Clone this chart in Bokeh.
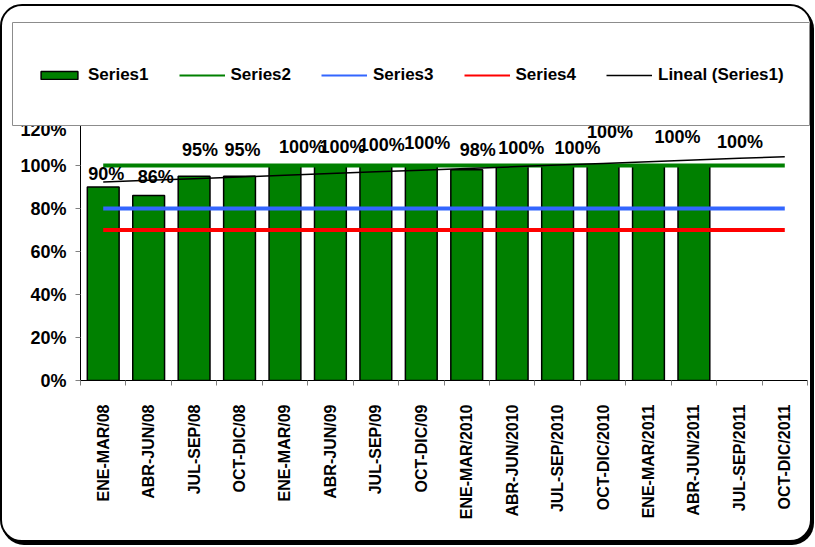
import numpy as np
from bokeh.plotting import figure
from bokeh.models import Range1d, FixedTicker, PrintfTickFormatter, Legend, LegendItem, ColumnDataSource
from bokeh.layouts import column
from bokeh.embed import file_html
from bokeh.resources import INLINE
from bokeh.core.properties import value

# ---------------- data ----------------
categories = ["ENE-MAR/08", "ABR-JUN/08", "JUL-SEP/08", "OCT-DIC/08",
              "ENE-MAR/09", "ABR-JUN/09", "JUL-SEP/09", "OCT-DIC/09",
              "ENE-MAR/2010", "ABR-JUN/2010", "JUL-SEP/2010", "OCT-DIC/2010",
              "ENE-MAR/2011", "ABR-JUN/2011", "JUL-SEP/2011", "OCT-DIC/2011"]
series1 = [90, 86, 95, 95, 100, 100, 100, 100, 98, 100, 100, 100, 100, 100]
series2 = [100, 100, 100, 100, 100, 100, 100, 100, 100, 100, 100, 100, 100, 100, 100, 100]
series3 = [80, 80, 80, 80, 80, 80, 80, 80, 80, 80, 80, 80, 80, 80, 80, 80]
series4 = [70, 70, 70, 70, 70, 70, 70, 70, 70, 70, 70, 70, 70, 70, 70, 70]
y_ticks = [0, 20, 40, 60, 80, 100, 120]
legend_names = ["Series1", "Series2", "Series3", "Series4", "Lineal (Series1)"]

# label placement (pixel offsets from bar top, as hand-placed in the original)
label_dx = [3, 7, 6, 3, 17, 12, 6, 6, 11, 9, 20, 7, 29, 46]
label_dy = [-13, -19, -26, -26, -19, -19, -21, -23, -20, -18, -18, -34, -29, -24]

# ---------------- styles ----------------
GREEN = "#008000"
BLUE = "#3366FF"
RED = "#FF0000"
FONT = "Liberation Sans"

n = len(categories)
centers = np.arange(n) + 0.5
bounds = list(range(n + 1))

# trend line (least squares over Series1, extended to all categories)
xi = np.arange(1, len(series1) + 1)
coef = np.polyfit(xi, series1, 1)
trend = np.polyval(coef, np.arange(1, n + 1))

bar_src = ColumnDataSource(dict(x=centers[:len(series1)], top=series1,
                                lbl=[f"{v}%" for v in series1],
                                dx=label_dx, dy=label_dy))
s2_src = ColumnDataSource(dict(x=centers, y=series2))
s3_src = ColumnDataSource(dict(x=centers, y=series3))
s4_src = ColumnDataSource(dict(x=centers, y=series4))
tr_src = ColumnDataSource(dict(x=centers, y=trend))

# ---------------- main plot ----------------
p = figure(width=808, height=421, toolbar_location=None, output_backend="svg",
           x_range=Range1d(0, n), y_range=Range1d(0, 120),
           min_border_left=78, min_border_right=3, min_border_top=3, min_border_bottom=160,
           margin=(-7, 0, 0, 0), frame_align=False)
p.outline_line_color = None
p.grid.visible = False
p.background_fill_color = "white"
p.border_fill_color = None

p.vbar(x="x", top="top", width=0.7, source=bar_src, fill_color=GREEN,
       line_color="black", line_width=1.5)
p.line("x", "y", source=s2_src, line_color=GREEN, line_width=4)
p.line("x", "y", source=s3_src, line_color=BLUE, line_width=4)
p.line("x", "y", source=s4_src, line_color=RED, line_width=4)
p.line("x", "y", source=tr_src, line_color="black", line_width=1.5)
p.text(x="x", y="top", text="lbl", source=bar_src, x_offset="dx", y_offset="dy",
       text_align="center", text_baseline="middle",
       text_font=value(FONT), text_font_style="bold", text_font_size="18px",
       text_color="black")

# x axis
xa = p.xaxis[0]
xa.ticker = FixedTicker(ticks=list(centers), minor_ticks=bounds)
xa.major_label_overrides = {float(c): lab for c, lab in zip(centers, categories)}
xa.major_tick_line_color = None
xa.major_tick_out = 0
xa.major_tick_in = 0
xa.minor_tick_line_color = "#808080"
xa.minor_tick_out = 5
xa.minor_tick_in = 0
xa.axis_line_color = "black"
xa.major_label_orientation = np.pi / 2
xa.major_label_standoff = 19
xa.major_label_text_font = FONT
xa.major_label_text_font_style = "bold"
xa.major_label_text_font_size = "16px"
xa.major_label_text_color = "black"

# y axis
ya = p.yaxis[0]
ya.ticker = FixedTicker(ticks=y_ticks, minor_ticks=[])
ya.formatter = PrintfTickFormatter(format="%d%%")
ya.major_tick_line_color = "#808080"
ya.major_tick_out = 5
ya.major_tick_in = 0
ya.minor_tick_line_color = None
ya.axis_line_color = "black"
ya.major_label_standoff = 9
ya.major_label_text_font = FONT
ya.major_label_text_font_style = "bold"
ya.major_label_text_font_size = "18px"
ya.major_label_text_color = "black"

# ---------------- legend panel ----------------
lg = figure(width=799, height=105, toolbar_location=None, output_backend="svg",
            x_range=Range1d(0, 1), y_range=Range1d(0, 1), min_border=1,
            margin=(15, 0, 0, 9), frame_align=False,
            styles={"position": "relative", "z-index": "2"})
lg.axis.visible = False
lg.grid.visible = False
lg.outline_line_color = "#8c8c8c"
lg.outline_line_width = 1
lg.background_fill_color = "white"
lg.border_fill_color = "white"

r1 = lg.vbar(x="x", top="top", width=0.7, source=bar_src, fill_color=GREEN,
             line_color="black", line_width=1.5, visible=False)
r2 = lg.line("x", "y", source=s2_src, line_color=GREEN, line_width=2, visible=False)
r3 = lg.line("x", "y", source=s3_src, line_color=BLUE, line_width=2, visible=False)
r4 = lg.line("x", "y", source=s4_src, line_color=RED, line_width=2, visible=False)
r5 = lg.line("x", "y", source=tr_src, line_color="black", line_width=1.5, visible=False)
legend = Legend(items=[LegendItem(label=nm, renderers=[r]) for nm, r in
                       zip(legend_names, [r1, r2, r3, r4, r5])],
                location=(24, 40), orientation="horizontal",
                border_line_color=None, background_fill_alpha=0,
                label_text_font=FONT, label_text_font_style="bold",
                label_text_font_size="17px", label_text_color="black",
                label_standoff=6, glyph_width=46, glyph_height=10,
                spacing=30, padding=0, margin=0)
lg.add_layout(legend, "center")

root = column(lg, p, spacing=0, margin=(4, 0, 0, 0),
              styles={"border": "2px solid black", "border-radius": "22px",
                      "box-shadow": "2px 3px 0 0 black", "background": "white",
                      "overflow": "hidden"})

open("out.html", "w").write(file_html(root, INLINE))
